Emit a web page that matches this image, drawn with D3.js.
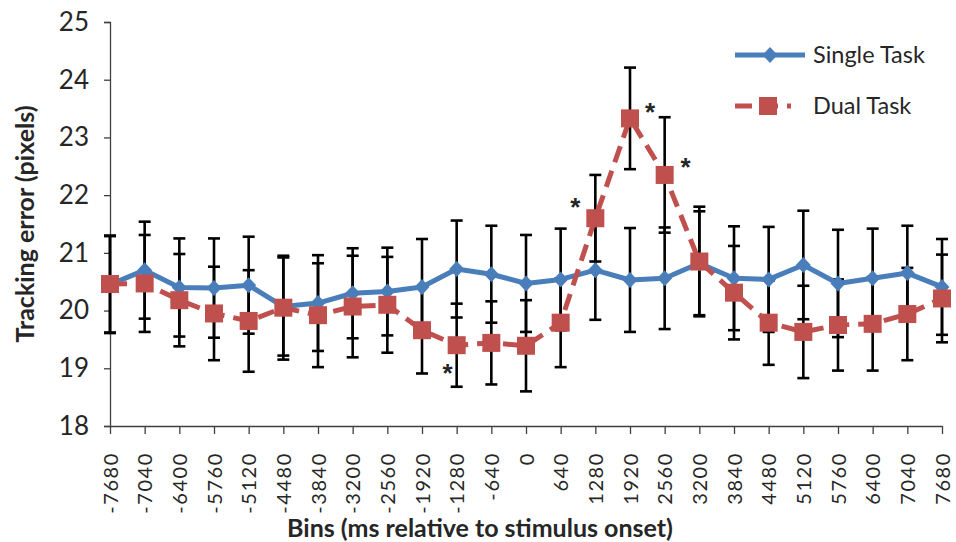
<!DOCTYPE html>
<html>
<head>
<meta charset="utf-8">
<script src="https://cdn.jsdelivr.net/npm/d3@7"></script>
<style>
    body { margin: 0; background: #fff; }
    #vis-container { width: 956px; height: 542px; }
    text { font-family: Lato, "Open Sans", sans-serif; fill: #262626; }
</style>
</head>
<body>
<div id="vis-container"></div>
<script>
// Bins (ms relative to stimulus onset)
const bins = ["-7680", "-7040", "-6400", "-5760", "-5120", "-4480", "-3840", "-3200", "-2560",
    "-1920", "-1280", "-640", "0", "640", "1280", "1920", "2560", "3200", "3840", "4480",
    "5120", "5760", "6400", "7040", "7680"];

// Single task mean tracking error and error bar half-widths
const singleTask = [20.45, 20.70, 20.40, 20.39, 20.44, 20.07, 20.13, 20.30, 20.33, 20.41, 20.72, 20.63, 20.47,
    20.54, 20.70, 20.53, 20.56, 20.82, 20.56, 20.54, 20.79, 20.47, 20.56, 20.65, 20.41];
const singleErr = [0.84, 0.84, 0.85, 0.86, 0.84, 0.85, 0.83, 0.78, 0.76, 0.83, 0.84, 0.84, 0.84,
    0.88, 0.86, 0.90, 0.88, 0.90, 0.90, 0.91, 0.94, 0.93, 0.86, 0.82, 0.83];

// Dual task mean tracking error and error bar half-widths
const dualTask = [20.46, 20.47, 20.18, 19.95, 19.82, 20.05, 19.92, 20.07, 20.10, 19.66, 19.40, 19.44, 19.39,
    19.79, 21.60, 23.33, 22.35, 20.85, 20.31, 19.79, 19.63, 19.75, 19.77, 19.94, 20.21];
const dualErr = [0.84, 0.84, 0.80, 0.81, 0.88, 0.90, 0.90, 0.88, 0.83, 0.75, 0.72, 0.72, 0.79,
    0.77, 0.75, 0.88, 1.00, 0.95, 0.81, 0.73, 0.80, 0.79, 0.81, 0.80, 0.76];

// Significance markers (bin, value level)
const starBins = ["-1280", "1280", "1920", "2560"];
const starLevels = [18.99, 21.86, 23.51, 22.56];

const yTicks = [18, 19, 20, 21, 22, 23, 24, 25];

const seriesNames = ["Single Task", "Dual Task"];

function main()
{
    const blue = "#4a7ebb";
    const red = "#c0504d";

    const margin = { left: 110, right: 14, top: 22, bottom: 116 };
    const width = 956;
    const height = 542;

    // horizontal nudge of each asterisk away from its bar
    const starShift = [-9, -20, 20, 21];

    const svg = d3.select("#vis-container")
        .append("svg")
        .attr("width", width)
        .attr("height", height);

    // Scales
    const xScale = d3.scalePoint()
        .domain(bins)
        .range([margin.left, width - margin.right]);

    const yScale = d3.scaleLinear()
        .domain([18, 25])
        .range([height - margin.bottom, margin.top]);

    // Y axis
    const yAxis = d3.axisLeft(yScale)
        .tickValues(yTicks)
        .tickSize(6)
        .tickPadding(15)
        .tickFormat(d3.format("d"));

    const yAxisG = svg.append("g")
        .attr("transform", `translate(${margin.left}, 0)`)
        .call(yAxis);
    yAxisG.select(".domain").attr("stroke", "#404040").attr("stroke-width", 1.3);
    yAxisG.selectAll(".tick line").attr("stroke", "#404040").attr("stroke-width", 1.3);
    yAxisG.selectAll(".tick text")
        .style("font-size", "26px")
        .style("font-family", "Lato, sans-serif")
        .attr("fill", "#262626");

    // X axis
    const xAxis = d3.axisBottom(xScale)
        .tickSize(8)
        .tickSizeOuter(0);

    const xAxisG = svg.append("g")
        .attr("transform", `translate(0, ${yScale(18)})`)
        .call(xAxis);
    xAxisG.select(".domain").attr("stroke", "#404040").attr("stroke-width", 1.3);
    xAxisG.selectAll(".tick line").attr("stroke", "#404040").attr("stroke-width", 1.3);
    xAxisG.selectAll(".tick text")
        .attr("transform", "translate(0, 26) rotate(-90)")
        .attr("x", 0)
        .attr("y", 0)
        .attr("dy", "0.36em")
        .attr("text-anchor", "end")
        .style("font-size", "20px")
        .style("letter-spacing", "1.6px")
        .style("font-family", "Lato, sans-serif")
        .attr("fill", "#262626");

    // Axis titles
    svg.append("text")
        .attr("transform", `translate(34, ${yScale(21.5)}) rotate(-90)`)
        .attr("text-anchor", "middle")
        .style("font-size", "25px")
        .style("font-weight", "bold")
        .text("Tracking error (pixels)");

    svg.append("text")
        .attr("x", 480)
        .attr("y", 537)
        .attr("text-anchor", "middle")
        .style("font-size", "25px")
        .style("font-weight", "bold")
        .text("Bins (ms relative to stimulus onset)");

    // Error bars for both series
    const errRows = [];
    bins.forEach((b, i) => {
        errRows.push({ bin: b, mean: singleTask[i], err: singleErr[i] });
        errRows.push({ bin: b, mean: dualTask[i], err: dualErr[i] });
    });

    const errG = svg.append("g")
        .attr("stroke", "#000")
        .attr("stroke-width", 2.6);

    errG.selectAll(".err-stem")
        .data(errRows)
        .enter()
        .append("line")
        .attr("x1", d => xScale(d.bin))
        .attr("x2", d => xScale(d.bin))
        .attr("y1", d => yScale(d.mean + d.err))
        .attr("y2", d => yScale(d.mean - d.err));

    ["top", "bottom"].forEach(side => {
        errG.selectAll(".err-cap-" + side)
            .data(errRows)
            .enter()
            .append("line")
            .attr("x1", d => xScale(d.bin) - 6)
            .attr("x2", d => xScale(d.bin) + 6)
            .attr("y1", d => yScale(side === "top" ? d.mean + d.err : d.mean - d.err))
            .attr("y2", d => yScale(side === "top" ? d.mean + d.err : d.mean - d.err));
    });

    // Single task line and diamond markers
    const line = d3.line()
        .x((_, i) => xScale(bins[i]))
        .y(d => yScale(d));

    const diamond = "M0,-8L7.5,0L0,8L-7.5,0Z";

    svg.append("path")
        .datum(singleTask)
        .attr("d", line)
        .attr("fill", "none")
        .attr("stroke", blue)
        .attr("stroke-width", 5)
        .attr("stroke-linejoin", "round");

    svg.selectAll(".diamond")
        .data(singleTask)
        .enter()
        .append("path")
        .attr("d", diamond)
        .attr("transform", (d, i) => `translate(${xScale(bins[i])}, ${yScale(d)})`)
        .attr("fill", blue);

    // Dual task dashed line and square markers
    svg.append("path")
        .datum(dualTask)
        .attr("d", line)
        .attr("fill", "none")
        .attr("stroke", red)
        .attr("stroke-width", 5)
        .attr("stroke-dasharray", "17,9");

    svg.selectAll(".square")
        .data(dualTask)
        .enter()
        .append("rect")
        .attr("x", (_, i) => xScale(bins[i]) - 9)
        .attr("y", d => yScale(d) - 9)
        .attr("width", 18)
        .attr("height", 18)
        .attr("fill", red);

    // Significance asterisks
    svg.selectAll(".star")
        .data(starBins)
        .enter()
        .append("text")
        .attr("x", (d, i) => xScale(d) + starShift[i])
        .attr("y", (_, i) => yScale(starLevels[i]) + 13)
        .attr("text-anchor", "middle")
        .style("font-family", "'Liberation Sans', sans-serif")
        .style("font-size", "26px")
        .style("font-weight", "bold")
        .attr("fill", "#000")
        .text("*");

    // Legend
    const legend = svg.append("g").attr("transform", "translate(735, 0)");
    const legendY = [55, 106];

    legend.append("line")
        .attr("x1", 0).attr("x2", 70)
        .attr("y1", legendY[0]).attr("y2", legendY[0])
        .attr("stroke", blue).attr("stroke-width", 5);
    legend.append("path")
        .attr("d", diamond)
        .attr("transform", `translate(35, ${legendY[0]})`)
        .attr("fill", blue);

    legend.append("line")
        .attr("x1", 0).attr("x2", 56)
        .attr("y1", legendY[1]).attr("y2", legendY[1])
        .attr("stroke", red).attr("stroke-width", 5)
        .attr("stroke-dasharray", "17,9");
    legend.append("rect")
        .attr("x", 24).attr("y", legendY[1] - 9)
        .attr("width", 18).attr("height", 18)
        .attr("fill", red);

    legend.selectAll(".legend-label")
        .data(seriesNames)
        .enter()
        .append("text")
        .attr("x", 78)
        .attr("y", (_, i) => legendY[i] + 8)
        .style("font-size", "23.5px")
        .text(d => d);
}

document.addEventListener("DOMContentLoaded", main);
</script>
</body>
</html>
